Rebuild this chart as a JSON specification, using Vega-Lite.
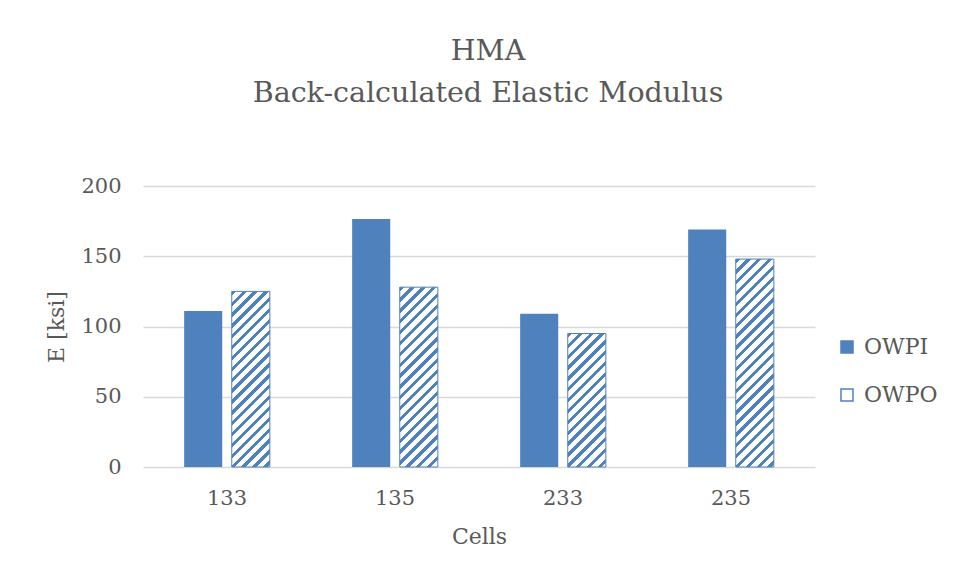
{
  "$schema": "https://vega.github.io/schema/vega-lite/v6.json",
  "width": 672,
  "height": 281,
  "autosize": {"type": "none"},
  "padding": {"left": 143, "top": 186, "right": 141, "bottom": 113},
  "background": "#ffffff",
  "title": {
    "text": ["HMA", "Back-calculated Elastic Modulus"],
    "font": "DejaVu Serif",
    "fontSize": 28.5,
    "fontWeight": "normal",
    "color": "#595959",
    "lineHeight": 42,
    "anchor": "middle",
    "frame": "group",
    "dx": 9,
    "offset": 68
  },
  "config": {
    "view": {"stroke": null},
    "axis": {
      "labelFont": "DejaVu Serif",
      "labelFontSize": 21,
      "labelColor": "#595959",
      "titleFont": "DejaVu Serif",
      "titleFontSize": 22,
      "titleFontWeight": "normal",
      "titleColor": "#595959"
    }
  },
  "data": {
    "values": [
      {"cell": "133", "series": "OWPI", "value": 111},
      {"cell": "133", "series": "OWPO", "value": 125},
      {"cell": "135", "series": "OWPI", "value": 176.5},
      {"cell": "135", "series": "OWPO", "value": 128},
      {"cell": "233", "series": "OWPI", "value": 109},
      {"cell": "233", "series": "OWPO", "value": 95},
      {"cell": "235", "series": "OWPI", "value": 169},
      {"cell": "235", "series": "OWPO", "value": 148}
    ]
  },
  "encoding": {
    "x": {
      "field": "cell",
      "type": "nominal",
      "sort": ["133", "135", "233", "235"],
      "scale": {"paddingInner": 0.49, "paddingOuter": 0.245},
      "axis": {"title": "Cells", "labelAngle": 0, "domain": false, "ticks": false, "labelPadding": 20, "titlePadding": 18}
    },
    "xOffset": {
      "field": "series",
      "type": "nominal",
      "scale": {"domain": ["OWPI", "OWPO"], "paddingInner": 0.2, "paddingOuter": 0}
    },
    "y": {
      "field": "value",
      "type": "quantitative",
      "scale": {"domain": [0, 200], "nice": false},
      "axis": {"title": "E [ksi]", "values": [0, 50, 100, 150, 200], "domain": false, "ticks": false, "labelPadding": 22, "titlePadding": 12, "gridColor": "#d9d9d9", "gridWidth": 1.3}
    }
  },
  "layer": [
    {
      "transform": [{"filter": "datum.series === 'OWPI'"}],
      "mark": {"type": "bar"},
      "encoding": {
        "color": {
          "field": "series",
          "type": "nominal",
          "scale": {"domain": ["OWPI", "OWPO"], "range": ["#4f81bd", "#ffffff"]},
          "legend": {
            "title": null,
            "orient": "none",
            "legendX": 693,
            "legendY": 150,
            "symbolType": "square",
            "symbolSize": 144,
            "symbolStrokeColor": "#4f81bd",
            "symbolStrokeWidth": 1.5,
            "labelFont": "DejaVu Serif",
            "labelFontSize": 22,
            "labelColor": "#595959",
            "rowPadding": 26,
            "labelOffset": 6,
            "padding": 0
          }
        }
      }
    },
    {
      "transform": [{"filter": "datum.series === 'OWPO'"}],
      "mark": {"type": "bar", "stroke": "#4f81bd", "strokeWidth": 1},
      "encoding": {
        "fill": {
          "condition": [
            {"test": "datum.cell === '133'", "value": {"gradient": "linear", "x1": 0, "y1": 0, "x2": 0.29487, "y2": 1.35974, "stops": [
{"offset":0,"color":"#4f81bd"},{"offset":0.01739,"color":"#4f81bd"},{"offset":0.01739,"color":"#fff"},{"offset":0.04348,"color":"#fff"},
{"offset":0.04348,"color":"#4f81bd"},{"offset":0.06087,"color":"#4f81bd"},{"offset":0.06087,"color":"#fff"},{"offset":0.08696,"color":"#fff"},
{"offset":0.08696,"color":"#4f81bd"},{"offset":0.10435,"color":"#4f81bd"},{"offset":0.10435,"color":"#fff"},{"offset":0.13043,"color":"#fff"},
{"offset":0.13043,"color":"#4f81bd"},{"offset":0.14783,"color":"#4f81bd"},{"offset":0.14783,"color":"#fff"},{"offset":0.17391,"color":"#fff"},
{"offset":0.17391,"color":"#4f81bd"},{"offset":0.1913,"color":"#4f81bd"},{"offset":0.1913,"color":"#fff"},{"offset":0.21739,"color":"#fff"},
{"offset":0.21739,"color":"#4f81bd"},{"offset":0.23478,"color":"#4f81bd"},{"offset":0.23478,"color":"#fff"},{"offset":0.26087,"color":"#fff"},
{"offset":0.26087,"color":"#4f81bd"},{"offset":0.27826,"color":"#4f81bd"},{"offset":0.27826,"color":"#fff"},{"offset":0.30435,"color":"#fff"},
{"offset":0.30435,"color":"#4f81bd"},{"offset":0.32174,"color":"#4f81bd"},{"offset":0.32174,"color":"#fff"},{"offset":0.34783,"color":"#fff"},
{"offset":0.34783,"color":"#4f81bd"},{"offset":0.36522,"color":"#4f81bd"},{"offset":0.36522,"color":"#fff"},{"offset":0.3913,"color":"#fff"},
{"offset":0.3913,"color":"#4f81bd"},{"offset":0.4087,"color":"#4f81bd"},{"offset":0.4087,"color":"#fff"},{"offset":0.43478,"color":"#fff"},
{"offset":0.43478,"color":"#4f81bd"},{"offset":0.45217,"color":"#4f81bd"},{"offset":0.45217,"color":"#fff"},{"offset":0.47826,"color":"#fff"},
{"offset":0.47826,"color":"#4f81bd"},{"offset":0.49565,"color":"#4f81bd"},{"offset":0.49565,"color":"#fff"},{"offset":0.52174,"color":"#fff"},
{"offset":0.52174,"color":"#4f81bd"},{"offset":0.53913,"color":"#4f81bd"},{"offset":0.53913,"color":"#fff"},{"offset":0.56522,"color":"#fff"},
{"offset":0.56522,"color":"#4f81bd"},{"offset":0.58261,"color":"#4f81bd"},{"offset":0.58261,"color":"#fff"},{"offset":0.6087,"color":"#fff"},
{"offset":0.6087,"color":"#4f81bd"},{"offset":0.62609,"color":"#4f81bd"},{"offset":0.62609,"color":"#fff"},{"offset":0.65217,"color":"#fff"},
{"offset":0.65217,"color":"#4f81bd"},{"offset":0.66957,"color":"#4f81bd"},{"offset":0.66957,"color":"#fff"},{"offset":0.69565,"color":"#fff"},
{"offset":0.69565,"color":"#4f81bd"},{"offset":0.71304,"color":"#4f81bd"},{"offset":0.71304,"color":"#fff"},{"offset":0.73913,"color":"#fff"},
{"offset":0.73913,"color":"#4f81bd"},{"offset":0.75652,"color":"#4f81bd"},{"offset":0.75652,"color":"#fff"},{"offset":0.78261,"color":"#fff"},
{"offset":0.78261,"color":"#4f81bd"},{"offset":0.8,"color":"#4f81bd"},{"offset":0.8,"color":"#fff"},{"offset":0.82609,"color":"#fff"},
{"offset":0.82609,"color":"#4f81bd"},{"offset":0.84348,"color":"#4f81bd"},{"offset":0.84348,"color":"#fff"},{"offset":0.86957,"color":"#fff"},
{"offset":0.86957,"color":"#4f81bd"},{"offset":0.88696,"color":"#4f81bd"},{"offset":0.88696,"color":"#fff"},{"offset":0.91304,"color":"#fff"},
{"offset":0.91304,"color":"#4f81bd"},{"offset":0.93043,"color":"#4f81bd"},{"offset":0.93043,"color":"#fff"},{"offset":0.95652,"color":"#fff"},
{"offset":0.95652,"color":"#4f81bd"},{"offset":0.97391,"color":"#4f81bd"},{"offset":0.97391,"color":"#fff"},{"offset":1,"color":"#fff"}]}},
            {"test": "datum.cell === '135'", "value": {"gradient": "linear", "x1": 0, "y1": 0, "x2": 0.28172, "y2": 1.33048, "stops": [
{"offset":0,"color":"#4f81bd"},{"offset":0.01739,"color":"#4f81bd"},{"offset":0.01739,"color":"#fff"},{"offset":0.04348,"color":"#fff"},
{"offset":0.04348,"color":"#4f81bd"},{"offset":0.06087,"color":"#4f81bd"},{"offset":0.06087,"color":"#fff"},{"offset":0.08696,"color":"#fff"},
{"offset":0.08696,"color":"#4f81bd"},{"offset":0.10435,"color":"#4f81bd"},{"offset":0.10435,"color":"#fff"},{"offset":0.13043,"color":"#fff"},
{"offset":0.13043,"color":"#4f81bd"},{"offset":0.14783,"color":"#4f81bd"},{"offset":0.14783,"color":"#fff"},{"offset":0.17391,"color":"#fff"},
{"offset":0.17391,"color":"#4f81bd"},{"offset":0.1913,"color":"#4f81bd"},{"offset":0.1913,"color":"#fff"},{"offset":0.21739,"color":"#fff"},
{"offset":0.21739,"color":"#4f81bd"},{"offset":0.23478,"color":"#4f81bd"},{"offset":0.23478,"color":"#fff"},{"offset":0.26087,"color":"#fff"},
{"offset":0.26087,"color":"#4f81bd"},{"offset":0.27826,"color":"#4f81bd"},{"offset":0.27826,"color":"#fff"},{"offset":0.30435,"color":"#fff"},
{"offset":0.30435,"color":"#4f81bd"},{"offset":0.32174,"color":"#4f81bd"},{"offset":0.32174,"color":"#fff"},{"offset":0.34783,"color":"#fff"},
{"offset":0.34783,"color":"#4f81bd"},{"offset":0.36522,"color":"#4f81bd"},{"offset":0.36522,"color":"#fff"},{"offset":0.3913,"color":"#fff"},
{"offset":0.3913,"color":"#4f81bd"},{"offset":0.4087,"color":"#4f81bd"},{"offset":0.4087,"color":"#fff"},{"offset":0.43478,"color":"#fff"},
{"offset":0.43478,"color":"#4f81bd"},{"offset":0.45217,"color":"#4f81bd"},{"offset":0.45217,"color":"#fff"},{"offset":0.47826,"color":"#fff"},
{"offset":0.47826,"color":"#4f81bd"},{"offset":0.49565,"color":"#4f81bd"},{"offset":0.49565,"color":"#fff"},{"offset":0.52174,"color":"#fff"},
{"offset":0.52174,"color":"#4f81bd"},{"offset":0.53913,"color":"#4f81bd"},{"offset":0.53913,"color":"#fff"},{"offset":0.56522,"color":"#fff"},
{"offset":0.56522,"color":"#4f81bd"},{"offset":0.58261,"color":"#4f81bd"},{"offset":0.58261,"color":"#fff"},{"offset":0.6087,"color":"#fff"},
{"offset":0.6087,"color":"#4f81bd"},{"offset":0.62609,"color":"#4f81bd"},{"offset":0.62609,"color":"#fff"},{"offset":0.65217,"color":"#fff"},
{"offset":0.65217,"color":"#4f81bd"},{"offset":0.66957,"color":"#4f81bd"},{"offset":0.66957,"color":"#fff"},{"offset":0.69565,"color":"#fff"},
{"offset":0.69565,"color":"#4f81bd"},{"offset":0.71304,"color":"#4f81bd"},{"offset":0.71304,"color":"#fff"},{"offset":0.73913,"color":"#fff"},
{"offset":0.73913,"color":"#4f81bd"},{"offset":0.75652,"color":"#4f81bd"},{"offset":0.75652,"color":"#fff"},{"offset":0.78261,"color":"#fff"},
{"offset":0.78261,"color":"#4f81bd"},{"offset":0.8,"color":"#4f81bd"},{"offset":0.8,"color":"#fff"},{"offset":0.82609,"color":"#fff"},
{"offset":0.82609,"color":"#4f81bd"},{"offset":0.84348,"color":"#4f81bd"},{"offset":0.84348,"color":"#fff"},{"offset":0.86957,"color":"#fff"},
{"offset":0.86957,"color":"#4f81bd"},{"offset":0.88696,"color":"#4f81bd"},{"offset":0.88696,"color":"#fff"},{"offset":0.91304,"color":"#fff"},
{"offset":0.91304,"color":"#4f81bd"},{"offset":0.93043,"color":"#4f81bd"},{"offset":0.93043,"color":"#fff"},{"offset":0.95652,"color":"#fff"},
{"offset":0.95652,"color":"#4f81bd"},{"offset":0.97391,"color":"#4f81bd"},{"offset":0.97391,"color":"#fff"},{"offset":1,"color":"#fff"}]}},
            {"test": "datum.cell === '233'", "value": {"gradient": "linear", "x1": 0, "y1": 0, "x2": 0.49414, "y2": 1.73203, "stops": [
{"offset":0,"color":"#4f81bd"},{"offset":0.01739,"color":"#4f81bd"},{"offset":0.01739,"color":"#fff"},{"offset":0.04348,"color":"#fff"},
{"offset":0.04348,"color":"#4f81bd"},{"offset":0.06087,"color":"#4f81bd"},{"offset":0.06087,"color":"#fff"},{"offset":0.08696,"color":"#fff"},
{"offset":0.08696,"color":"#4f81bd"},{"offset":0.10435,"color":"#4f81bd"},{"offset":0.10435,"color":"#fff"},{"offset":0.13043,"color":"#fff"},
{"offset":0.13043,"color":"#4f81bd"},{"offset":0.14783,"color":"#4f81bd"},{"offset":0.14783,"color":"#fff"},{"offset":0.17391,"color":"#fff"},
{"offset":0.17391,"color":"#4f81bd"},{"offset":0.1913,"color":"#4f81bd"},{"offset":0.1913,"color":"#fff"},{"offset":0.21739,"color":"#fff"},
{"offset":0.21739,"color":"#4f81bd"},{"offset":0.23478,"color":"#4f81bd"},{"offset":0.23478,"color":"#fff"},{"offset":0.26087,"color":"#fff"},
{"offset":0.26087,"color":"#4f81bd"},{"offset":0.27826,"color":"#4f81bd"},{"offset":0.27826,"color":"#fff"},{"offset":0.30435,"color":"#fff"},
{"offset":0.30435,"color":"#4f81bd"},{"offset":0.32174,"color":"#4f81bd"},{"offset":0.32174,"color":"#fff"},{"offset":0.34783,"color":"#fff"},
{"offset":0.34783,"color":"#4f81bd"},{"offset":0.36522,"color":"#4f81bd"},{"offset":0.36522,"color":"#fff"},{"offset":0.3913,"color":"#fff"},
{"offset":0.3913,"color":"#4f81bd"},{"offset":0.4087,"color":"#4f81bd"},{"offset":0.4087,"color":"#fff"},{"offset":0.43478,"color":"#fff"},
{"offset":0.43478,"color":"#4f81bd"},{"offset":0.45217,"color":"#4f81bd"},{"offset":0.45217,"color":"#fff"},{"offset":0.47826,"color":"#fff"},
{"offset":0.47826,"color":"#4f81bd"},{"offset":0.49565,"color":"#4f81bd"},{"offset":0.49565,"color":"#fff"},{"offset":0.52174,"color":"#fff"},
{"offset":0.52174,"color":"#4f81bd"},{"offset":0.53913,"color":"#4f81bd"},{"offset":0.53913,"color":"#fff"},{"offset":0.56522,"color":"#fff"},
{"offset":0.56522,"color":"#4f81bd"},{"offset":0.58261,"color":"#4f81bd"},{"offset":0.58261,"color":"#fff"},{"offset":0.6087,"color":"#fff"},
{"offset":0.6087,"color":"#4f81bd"},{"offset":0.62609,"color":"#4f81bd"},{"offset":0.62609,"color":"#fff"},{"offset":0.65217,"color":"#fff"},
{"offset":0.65217,"color":"#4f81bd"},{"offset":0.66957,"color":"#4f81bd"},{"offset":0.66957,"color":"#fff"},{"offset":0.69565,"color":"#fff"},
{"offset":0.69565,"color":"#4f81bd"},{"offset":0.71304,"color":"#4f81bd"},{"offset":0.71304,"color":"#fff"},{"offset":0.73913,"color":"#fff"},
{"offset":0.73913,"color":"#4f81bd"},{"offset":0.75652,"color":"#4f81bd"},{"offset":0.75652,"color":"#fff"},{"offset":0.78261,"color":"#fff"},
{"offset":0.78261,"color":"#4f81bd"},{"offset":0.8,"color":"#4f81bd"},{"offset":0.8,"color":"#fff"},{"offset":0.82609,"color":"#fff"},
{"offset":0.82609,"color":"#4f81bd"},{"offset":0.84348,"color":"#4f81bd"},{"offset":0.84348,"color":"#fff"},{"offset":0.86957,"color":"#fff"},
{"offset":0.86957,"color":"#4f81bd"},{"offset":0.88696,"color":"#4f81bd"},{"offset":0.88696,"color":"#fff"},{"offset":0.91304,"color":"#fff"},
{"offset":0.91304,"color":"#4f81bd"},{"offset":0.93043,"color":"#4f81bd"},{"offset":0.93043,"color":"#fff"},{"offset":0.95652,"color":"#fff"},
{"offset":0.95652,"color":"#4f81bd"},{"offset":0.97391,"color":"#4f81bd"},{"offset":0.97391,"color":"#fff"},{"offset":1,"color":"#fff"}]}}
          ],
          "value": {"gradient": "linear", "x1": 0, "y1": 0, "x2": 0.21303, "y2": 1.16326, "stops": [
{"offset":0,"color":"#4f81bd"},{"offset":0.01739,"color":"#4f81bd"},{"offset":0.01739,"color":"#fff"},{"offset":0.04348,"color":"#fff"},
{"offset":0.04348,"color":"#4f81bd"},{"offset":0.06087,"color":"#4f81bd"},{"offset":0.06087,"color":"#fff"},{"offset":0.08696,"color":"#fff"},
{"offset":0.08696,"color":"#4f81bd"},{"offset":0.10435,"color":"#4f81bd"},{"offset":0.10435,"color":"#fff"},{"offset":0.13043,"color":"#fff"},
{"offset":0.13043,"color":"#4f81bd"},{"offset":0.14783,"color":"#4f81bd"},{"offset":0.14783,"color":"#fff"},{"offset":0.17391,"color":"#fff"},
{"offset":0.17391,"color":"#4f81bd"},{"offset":0.1913,"color":"#4f81bd"},{"offset":0.1913,"color":"#fff"},{"offset":0.21739,"color":"#fff"},
{"offset":0.21739,"color":"#4f81bd"},{"offset":0.23478,"color":"#4f81bd"},{"offset":0.23478,"color":"#fff"},{"offset":0.26087,"color":"#fff"},
{"offset":0.26087,"color":"#4f81bd"},{"offset":0.27826,"color":"#4f81bd"},{"offset":0.27826,"color":"#fff"},{"offset":0.30435,"color":"#fff"},
{"offset":0.30435,"color":"#4f81bd"},{"offset":0.32174,"color":"#4f81bd"},{"offset":0.32174,"color":"#fff"},{"offset":0.34783,"color":"#fff"},
{"offset":0.34783,"color":"#4f81bd"},{"offset":0.36522,"color":"#4f81bd"},{"offset":0.36522,"color":"#fff"},{"offset":0.3913,"color":"#fff"},
{"offset":0.3913,"color":"#4f81bd"},{"offset":0.4087,"color":"#4f81bd"},{"offset":0.4087,"color":"#fff"},{"offset":0.43478,"color":"#fff"},
{"offset":0.43478,"color":"#4f81bd"},{"offset":0.45217,"color":"#4f81bd"},{"offset":0.45217,"color":"#fff"},{"offset":0.47826,"color":"#fff"},
{"offset":0.47826,"color":"#4f81bd"},{"offset":0.49565,"color":"#4f81bd"},{"offset":0.49565,"color":"#fff"},{"offset":0.52174,"color":"#fff"},
{"offset":0.52174,"color":"#4f81bd"},{"offset":0.53913,"color":"#4f81bd"},{"offset":0.53913,"color":"#fff"},{"offset":0.56522,"color":"#fff"},
{"offset":0.56522,"color":"#4f81bd"},{"offset":0.58261,"color":"#4f81bd"},{"offset":0.58261,"color":"#fff"},{"offset":0.6087,"color":"#fff"},
{"offset":0.6087,"color":"#4f81bd"},{"offset":0.62609,"color":"#4f81bd"},{"offset":0.62609,"color":"#fff"},{"offset":0.65217,"color":"#fff"},
{"offset":0.65217,"color":"#4f81bd"},{"offset":0.66957,"color":"#4f81bd"},{"offset":0.66957,"color":"#fff"},{"offset":0.69565,"color":"#fff"},
{"offset":0.69565,"color":"#4f81bd"},{"offset":0.71304,"color":"#4f81bd"},{"offset":0.71304,"color":"#fff"},{"offset":0.73913,"color":"#fff"},
{"offset":0.73913,"color":"#4f81bd"},{"offset":0.75652,"color":"#4f81bd"},{"offset":0.75652,"color":"#fff"},{"offset":0.78261,"color":"#fff"},
{"offset":0.78261,"color":"#4f81bd"},{"offset":0.8,"color":"#4f81bd"},{"offset":0.8,"color":"#fff"},{"offset":0.82609,"color":"#fff"},
{"offset":0.82609,"color":"#4f81bd"},{"offset":0.84348,"color":"#4f81bd"},{"offset":0.84348,"color":"#fff"},{"offset":0.86957,"color":"#fff"},
{"offset":0.86957,"color":"#4f81bd"},{"offset":0.88696,"color":"#4f81bd"},{"offset":0.88696,"color":"#fff"},{"offset":0.91304,"color":"#fff"},
{"offset":0.91304,"color":"#4f81bd"},{"offset":0.93043,"color":"#4f81bd"},{"offset":0.93043,"color":"#fff"},{"offset":0.95652,"color":"#fff"},
{"offset":0.95652,"color":"#4f81bd"},{"offset":0.97391,"color":"#4f81bd"},{"offset":0.97391,"color":"#fff"},{"offset":1,"color":"#fff"}]}
        }
      }
    }
  ]
}
